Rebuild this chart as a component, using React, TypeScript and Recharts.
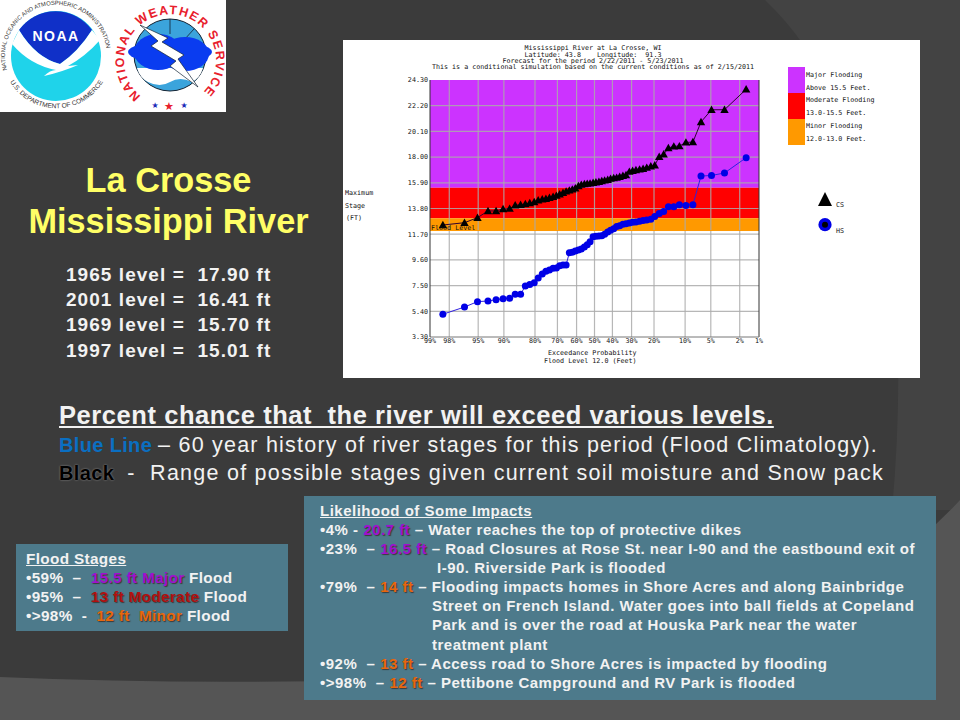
import { ComposedChart, Line, XAxis, YAxis, ReferenceArea, ReferenceLine } from "recharts";

// exceedance probability (percent) of each ranked trace
const exceedance = [
  1.6, 3.3, 4.9, 6.6, 8.2, 9.8, 11.5, 13.1, 14.8, 16.4,
  18.0, 19.7, 21.3, 23.0, 24.6, 26.2, 27.9, 29.5, 31.1, 32.8,
  34.4, 36.1, 37.7, 39.3, 41.0, 42.6, 44.3, 45.9, 47.5, 49.2,
  50.8, 52.5, 54.1, 55.7, 57.4, 59.0, 60.7, 62.3, 63.9, 65.6,
  67.2, 68.9, 70.5, 72.1, 73.8, 75.4, 77.0, 78.7, 80.3, 82.0,
  83.6, 85.2, 86.9, 88.5, 90.2, 91.8, 93.4, 95.1, 96.7, 98.4,
];
const stageCS = [
  23.54, 21.87, 21.87, 20.87, 19.23, 19.2, 18.9, 18.88, 18.74, 18.23,
  18.03, 17.33, 17.25, 17.14, 17.05, 17.0, 16.95, 16.89, 16.81, 16.54,
  16.48, 16.4, 16.32, 16.29, 16.24, 16.15, 16.1, 16.05, 15.99, 15.94,
  15.91, 15.85, 15.83, 15.8, 15.75, 15.64, 15.45, 15.36, 15.28, 15.2,
  15.09, 14.96, 14.85, 14.76, 14.68, 14.6, 14.55, 14.47, 14.33, 14.25,
  14.17, 14.11, 14.06, 13.79, 13.76, 13.6, 13.6, 13.05, 12.64, 12.45,
];
const stageHS = [
  17.95, 16.7, 16.5, 16.45, 14.1, 14.05, 14.1, 13.95, 13.95, 13.55,
  13.4, 13.15, 12.92, 12.86, 12.81, 12.75, 12.7, 12.67, 12.62, 12.56,
  12.51, 12.4, 12.32, 12.15, 12.02, 11.88, 11.69, 11.58, 11.55, 11.53,
  11.5, 11.09, 10.84, 10.66, 10.49, 10.41, 10.33, 10.22, 10.19, 9.19,
  9.19, 9.13, 8.94, 8.92, 8.78, 8.67, 8.45, 8.12, 7.74, 7.58,
  7.47, 6.79, 6.79, 6.47, 6.43, 6.35, 6.24, 6.19, 5.75, 5.16,
];
const percentTicks = [99, 98, 95, 90, 80, 70, 60, 50, 40, 30, 20, 10, 5, 2, 1];
const stageTicks = [3.3, 5.4, 7.5, 9.6, 11.7, 13.8, 15.9, 18.0, 20.1, 22.2, 24.3];

const titleLines = [
  "Mississippi River at La Crosse, WI",
  "Latitude: 43.8    Longitude:  91.3",
  "Forecast for the period 2/22/2011 - 5/23/2011",
  "This is a conditional simulation based on the current conditions as of 2/15/2011",
];
const historicLevels = ["1965 level =  17.90 ft", "2001 level =  16.41 ft", "1969 level =  15.70 ft", "1997 level =  15.01 ft"];

const PURPLE = "#cc33ff";
const RED = "#ff0000";
const ORANGE = "#ff9900";
const TEAL = "#4d7a8b";
const HOT_PURPLE = "#a010d0";
const HOT_RED = "#b01010";
const HOT_ORANGE = "#e8660c";
const INK = "#111";
const MONO = "'DejaVu Sans Mono', monospace";
const ARIAL = "'Liberation Sans', Arial, sans-serif";

// normal quantile, the horizontal axis is a normal probability scale
function quantile(p: number): number {
  const a = [-39.69683028665376, 220.9460984245205, -275.9285104469687, 138.357751867269, -30.66479806614716, 2.506628277459239];
  const b = [-54.47609879822406, 161.5858368580409, -155.6989798598866, 66.80131188771972, -13.28068155288572];
  const c = [-0.007784894002430293, -0.3223964580411365, -2.400758277161838, -2.549732539343734, 4.374664141464968, 2.938163982698783];
  const d = [0.007784695709041462, 0.3224671290700398, 2.445134137142996, 3.754408661907416];
  if (p < 0.02425) {
    const q = Math.sqrt(-2 * Math.log(p));
    return (((((c[0] * q + c[1]) * q + c[2]) * q + c[3]) * q + c[4]) * q + c[5]) / ((((d[0] * q + d[1]) * q + d[2]) * q + d[3]) * q + 1);
  }
  if (p > 1 - 0.02425) return -quantile(1 - p);
  const q = p - 0.5;
  const r = q * q;
  return ((((((a[0] * r + a[1]) * r + a[2]) * r + a[3]) * r + a[4]) * r + a[5]) * q) / (((((b[0] * r + b[1]) * r + b[2]) * r + b[3]) * r + b[4]) * r + 1);
}
const probX = (pct: number) => quantile(1 - pct / 100);

const data = exceedance.map((pct, i) => ({ x: probX(pct), cs: stageCS[i], hs: stageHS[i] }));

const TriangleDot = (props: any) => {
  const { cx, cy } = props;
  return <polygon key={props.index} points={`${cx},${cy - 4.2} ${cx + 4.2},${cy + 3.2} ${cx - 4.2},${cy + 3.2}`} fill="#000" />;
};

const xTickLabel = (v: number) => {
  const pct = percentTicks.find((p) => Math.abs(probX(p) - v) < 1e-6);
  return `${pct}%`;
};

const Mono = ({ x, y, children }: { x: number; y: number; children: React.ReactNode }) => (
  <div style={{ position: "absolute", left: x, top: y - 5, height: 10, lineHeight: "10px", fontFamily: MONO, fontSize: 6.7, color: INK, whiteSpace: "pre" }}>
    {children}
  </div>
);

const Row = ({ x, y, size, gap = 0, children, style }: { x: number; y: number; size: number; gap?: number; children: React.ReactNode; style?: React.CSSProperties }) => (
  <div style={{ position: "absolute", left: x, top: y - size, height: size * 2, lineHeight: `${size * 2}px`, fontFamily: ARIAL, fontSize: size, letterSpacing: gap, fontWeight: 700, color: "#f2f2f2", whiteSpace: "pre", ...style }}>
    {children}
  </div>
);

const Hot = ({ color, children }: { color: string; children: React.ReactNode }) => (
  <span style={{ color, textShadow: "1px 1px 1px #3a3a3a" }}>{children}</span>
);

const Logos = () => (
  <svg width={226} height={112} style={{ position: "absolute", left: 0, top: 0 }}>
    <rect width={226} height={112} fill="#fff" />
    {/* NOAA */}
    <circle cx={56} cy={56} r={45} fill="#1fd3ea" />
    <path d="M19 30 A45 45 0 0 1 92 30 Q78 52 60 64 Q36 58 19 30 Z" fill="#1030c8" />
    <path d="M12 44 L19 30 Q36 58 60 64 Q78 52 92 30 L100 40 Q86 56 68 66 L78 65 Q62 72 44 76 Q50 70 56 70 Q30 65 12 44 Z" fill="#fff" />
    <text x={56} y={41} textAnchor="middle" fontFamily={ARIAL} fontWeight={700} fontSize={14} fill="#fff" letterSpacing={1.5}>NOAA</text>
    <defs>
      <path id="noaaTop" d="M7 70 A51 51 0 1 1 105 70" />
      <path id="noaaBot" d="M8 78 A54 54 0 0 0 105 78" />
      <path id="nwsArc" d="M141 96 A46 46 0 1 1 199 96" />
    </defs>
    <text fontFamily={ARIAL} fontSize={5.9} fill="#333">
      <textPath href="#noaaTop">NATIONAL OCEANIC AND ATMOSPHERIC ADMINISTRATION</textPath>
    </text>
    <text fontFamily={ARIAL} fontSize={6.6} fill="#333" textAnchor="middle">
      <textPath href="#noaaBot" startOffset="50%">U.S. DEPARTMENT OF COMMERCE</textPath>
    </text>
    {/* NWS */}
    <circle cx={170} cy={55} r={36} fill="#3ba4dc" stroke="#123" strokeWidth={1} />
    <path d="M170 19 V34 M146 29 L156 40 M194 29 L184 40" stroke="#123" strokeWidth={0.8} />
    <path d="M137 68 H203 Q200 78 192 82 Q180 76 170 82 Q160 88 148 82 Q140 78 137 68 Z" fill="#fff" />
    <ellipse cx={170} cy={52} rx={42} ry={11} fill="#0a3cf0" />
    <ellipse cx={158} cy={52} rx={24} ry={18} fill="#0a3cf0" />
    <ellipse cx={185} cy={54} rx={24} ry={17} fill="#0a3cf0" />
    <path d="M140 25 L168 38 L162 42 L184 55 L178 59 L198 87 L170 66 L176 61 L151 46 L158 41 Z" fill="#fff" stroke="#123" strokeWidth={0.7} />
    <text fontFamily={ARIAL} fontWeight={700} fontSize={12.5} fill="#e8202c" letterSpacing={1.4}>
      <textPath href="#nwsArc">NATIONAL WEATHER SERVICE</textPath>
    </text>
    <text x={155} y={108} fontSize={8} fill="#1a2ab8" textAnchor="middle" fontFamily="DejaVu Sans">★</text>
    <text x={169} y={110} fontSize={11} fill="#e8202c" textAnchor="middle" fontFamily="DejaVu Sans">★</text>
    <text x={184} y={108} fontSize={8} fill="#1a2ab8" textAnchor="middle" fontFamily="DejaVu Sans">★</text>
  </svg>
);

const Backdrop = () => (
  <svg width={960} height={720} style={{ position: "absolute", left: 0, top: 0 }}>
    <rect width={960} height={720} fill="#3b3b3b" />
    <path d="M765 0 Q860 90 896 300 Q902 400 892 510 L960 510 L960 0 Z" fill="#434343" />
    <path d="M0 677 Q300 690 640 668 Q850 620 960 500 L960 720 L0 720 Z" fill="#555" />
  </svg>
);

const gridStyle = { stroke: "#aaa", strokeOpacity: 0.85, strokeWidth: 1.2 };

export default function App() {
  return (
    <div style={{ position: "absolute", left: 0, top: 0, width: 960, height: 720, overflow: "hidden" }}>
      <Backdrop />
      <Logos />

      <Row x={0} y={180} size={34.3} style={{ width: 337, textAlign: "center", color: "#ffff66" }}>La Crosse</Row>
      <Row x={0} y={221} size={34.3} style={{ width: 337, textAlign: "center", color: "#ffff66" }}>Mississippi River</Row>
      {historicLevels.map((t, i) => (
        <Row key={t} x={66} y={275 + i * 25.2} size={19} gap={1.05}>{t}</Row>
      ))}

      {/* chart panel */}
      <div style={{ position: "absolute", left: 343, top: 40, width: 577, height: 338, background: "#fff" }}>
        <ComposedChart width={577} height={338} data={data} margin={{ top: 40, right: 161, bottom: 21, left: 40 }}>
          <ReferenceArea y1={15.5} y2={24.3} fill={PURPLE} fillOpacity={1} stroke="none" />
          <ReferenceArea y1={13} y2={15.5} fill={RED} fillOpacity={1} stroke="none" />
          <ReferenceArea y1={12} y2={13} fill={ORANGE} fillOpacity={1} stroke="none" />
          {percentTicks.slice(1, -1).map((p) => (
            <ReferenceLine key={p} x={probX(p)} {...gridStyle} />
          ))}
          {stageTicks.slice(1, -1).map((s) => (
            <ReferenceLine key={s} y={s} {...gridStyle} />
          ))}
          <XAxis
            type="number"
            dataKey="x"
            domain={[probX(99), probX(1)]}
            ticks={percentTicks.map(probX)}
            tickFormatter={xTickLabel}
            tick={{ fontFamily: MONO, fontSize: 6.7, fill: INK }}
            interval={0}
            height={20}
            tickLine={false}
            tickSize={0}
            axisLine={{ stroke: "#777" }}
            tickMargin={1}
            allowDataOverflow
          />
          <YAxis
            type="number"
            domain={[3.3, 24.3]}
            ticks={stageTicks}
            tickFormatter={(v: number) => v.toFixed(2)}
            interval={0}
            width={47}
            tickLine={false}
            tickSize={0}
            tickMargin={2}
            axisLine={{ stroke: "#333" }}
            tick={{ fontFamily: MONO, fontSize: 6.7, fill: INK }}
            allowDataOverflow
          />
          <ReferenceLine
            y={12}
            stroke={ORANGE}
            label={{ value: "Flood Level", position: "insideBottomLeft", offset: 1, fontFamily: MONO, fontSize: 6.7, fill: INK }}
          />
          <ReferenceLine x={probX(1)} stroke="#333" />
          <Line dataKey="cs" stroke="#300030" strokeWidth={1} dot={TriangleDot} isAnimationActive={false} />
          <Line dataKey="hs" stroke="#3020e0" strokeWidth={1} dot={{ r: 3.5, fill: "#0000e6", stroke: "none" }} isAnimationActive={false} />
        </ComposedChart>

        {titleLines.map((t, i) => (
          <div key={t} style={{ position: "absolute", left: 0, width: 500, top: [3, 10, 16, 22][i], height: 10, lineHeight: "10px", fontFamily: MONO, fontSize: 6.7, color: INK, whiteSpace: "pre", textAlign: "center" }}>
            {t}
          </div>
        ))}

        <Mono x={2} y={153}>Maximum</Mono>
        <Mono x={2} y={166}>Stage</Mono>
        <Mono x={3} y={178}>(FT)</Mono>

        <Mono x={205} y={313}>Exceedance Probability</Mono>
        <Mono x={201} y={321}>Flood Level 12.0 (Feet)</Mono>

        {/* flood key */}
        <div style={{ position: "absolute", left: 445, top: 27, width: 17, height: 26, background: PURPLE }} />
        <div style={{ position: "absolute", left: 445, top: 53, width: 17, height: 26, background: RED }} />
        <div style={{ position: "absolute", left: 445, top: 79, width: 17, height: 26, background: ORANGE }} />
        <Mono x={463} y={35}>Major Flooding</Mono>
        <Mono x={463} y={48}>Above 15.5 Feet.</Mono>
        <Mono x={463} y={60}>Moderate Flooding</Mono>
        <Mono x={463} y={73}>13.0-15.5 Feet.</Mono>
        <Mono x={463} y={86}>Minor Flooding</Mono>
        <Mono x={463} y={99}>12.0-13.0 Feet.</Mono>

        {/* series key */}
        <svg width={30} height={50} style={{ position: "absolute", left: 467, top: 150 }}>
          <polygon points="15,2 22,16 8,16" fill="#000" />
          <circle cx={15} cy={34.7} r={6.6} fill="#0000e6" />
          <circle cx={15} cy={34.7} r={3} fill="#000" />
        </svg>
        <Mono x={493} y={165}>CS</Mono>
        <Mono x={493} y={191}>HS</Mono>
      </div>

      <Row x={59} y={415} size={25.5} gap={0.57} style={{ textDecoration: "underline" }}>Percent chance that  the river will exceed various levels.</Row>
      <Row x={59} y={445} size={21.5} gap={1.22} style={{ fontWeight: 400 }}>
        <span style={{ color: "#0a6fc2", fontWeight: 700, fontSize: 20, letterSpacing: 0.35 }}>Blue Line </span>– 60 year history of river stages for this period (Flood Climatology).
      </Row>
      <Row x={59} y={473} size={21.5} gap={1.25} style={{ fontWeight: 400 }}>
        <span style={{ color: "#000", fontWeight: 700, fontSize: 20, letterSpacing: 0.35, textShadow: "0 0 2px #999" }}>Black </span> -  Range of possible stages given current soil moisture and Snow pack
      </Row>

      {/* flood stages box */}
      <div style={{ position: "absolute", left: 16, top: 544, width: 272, height: 87, background: TEAL }} />
      <Row x={26} y={559} size={15.3} gap={0.35} style={{ textDecoration: "underline" }}>Flood Stages</Row>
      <Row x={26} y={578} size={15.3} gap={0.35}>•59%  –  <Hot color={HOT_PURPLE}>15.5 ft Major</Hot> Flood</Row>
      <Row x={26} y={597} size={15.3} gap={0.35}>•95%  –  <Hot color={HOT_RED}>13 ft Moderate</Hot> Flood</Row>
      <Row x={26} y={616} size={15.3} gap={0.35}>•&gt;98%  -  <Hot color={HOT_ORANGE}>12 ft  Minor</Hot> Flood</Row>

      {/* impacts box */}
      <div style={{ position: "absolute", left: 304, top: 496, width: 632, height: 204, background: TEAL }} />
      <Row x={320} y={511} size={15} gap={0.5} style={{ textDecoration: "underline" }}>Likelihood of Some Impacts</Row>
      <Row x={320} y={530} size={15} gap={0.5}>•4% - <Hot color={HOT_PURPLE}>20.7 ft</Hot> – Water reaches the top of protective dikes</Row>
      <Row x={320} y={549} size={15} gap={0.5}>•23%  – <Hot color={HOT_PURPLE}>16.5 ft</Hot> – Road Closures at Rose St. near I-90 and the eastbound exit of</Row>
      <Row x={437} y={568} size={15} gap={0.5}>I-90. Riverside Park is flooded</Row>
      <Row x={320} y={587} size={15} gap={0.5}>•79%  – <Hot color={HOT_ORANGE}>14 ft</Hot> – Flooding impacts homes in Shore Acres and along Bainbridge</Row>
      <Row x={432} y={606} size={15} gap={0.5}>Street on French Island. Water goes into ball fields at Copeland</Row>
      <Row x={432} y={625} size={15} gap={0.5}>Park and is over the road at Houska Park near the water</Row>
      <Row x={432} y={645} size={15} gap={0.5}>treatment plant</Row>
      <Row x={320} y={664} size={15} gap={0.5}>•92%  – <Hot color={HOT_ORANGE}>13 ft</Hot> – Access road to Shore Acres is impacted by flooding</Row>
      <Row x={320} y={683} size={15} gap={0.5}>•&gt;98%  – <Hot color={HOT_ORANGE}>12 ft</Hot> – Pettibone Campground and RV Park is flooded</Row>
    </div>
  );
}
